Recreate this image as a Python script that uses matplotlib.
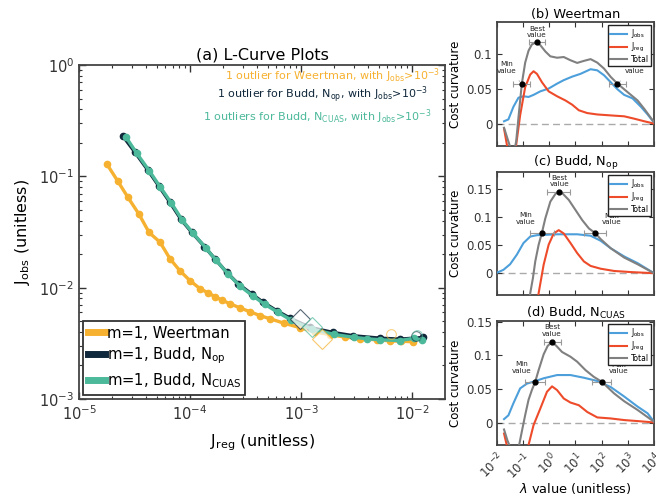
import numpy as np
import matplotlib
matplotlib.use("Agg")
import matplotlib.pyplot as plt
from matplotlib.lines import Line2D

# ---------------- data: L-curves (panel a) ----------------
weert_jreg = [1.79e-5, 2.24e-5, 2.76e-5, 3.48e-5, 4.28e-5, 5.37e-5, 6.6e-5, 8.1e-5, 1.0e-4,
              1.23e-4, 1.45e-4, 1.68e-4, 1.95e-4, 2.29e-4, 2.8e-4, 3.47e-4, 4.3e-4, 5.26e-4,
              7.0e-4, 9.8e-4, 1.35e-3, 1.82e-3, 2.5e-3, 3.4e-3, 4.8e-3, 6.3e-3, 8.0e-3, 1.02e-2]
weert_jobs = [0.128, 0.0902, 0.0647, 0.0455, 0.0313, 0.0256, 0.0182, 0.0142, 0.01156,
              0.0098, 0.0090, 0.0083, 0.0077, 0.00718, 0.0066, 0.00608, 0.0056, 0.00526,
              0.0048, 0.00437, 0.0040, 0.00378, 0.0036, 0.00348, 0.0034, 0.00333, 0.0033, 0.00327]

nop_jreg = [2.49e-5, 3.2e-5, 4.19e-5, 5.26e-5, 6.6e-5, 8.3e-5, 1.035e-4, 1.35e-4, 1.68e-4,
            2.14e-4, 2.72e-4, 3.6e-4, 4.57e-4, 6.04e-4, 7.96e-4, 1.2e-3, 1.95e-3, 2.96e-3,
            5.15e-3, 7.8e-3, 1.26e-2]
nop_jobs = [0.229, 0.164, 0.113, 0.0813, 0.0583, 0.041, 0.0315, 0.0234, 0.0181,
            0.01374, 0.0108, 0.00877, 0.00738, 0.00621, 0.00533, 0.0044, 0.00396, 0.0037,
            0.00352, 0.00345, 0.00357]

cuas_jreg = [2.65e-5, 3.3e-5, 4.3e-5, 5.4e-5, 6.8e-5, 8.5e-5, 1.06e-4, 1.38e-4, 1.72e-4,
             2.2e-4, 2.8e-4, 3.7e-4, 4.7e-4, 6.2e-4, 8.2e-4, 1.25e-3, 2.0e-3, 3.0e-3,
             3.9e-3, 5.2e-3, 7.8e-3, 1.05e-2, 1.22e-2]
cuas_jobs = [0.225, 0.162, 0.112, 0.080, 0.0575, 0.0405, 0.031, 0.0229, 0.0176,
             0.0133, 0.0104, 0.0084, 0.0071, 0.0060, 0.0051, 0.00425, 0.0038, 0.00358,
             0.00348, 0.0034, 0.00335, 0.00352, 0.00338]

# best-value (diamond) and outlier (circle) points
best_jreg = [1.54e-3, 9.8e-4, 1.25e-3]
best_jobs = [0.00345, 0.00522, 0.00439]
out_jreg = [6.43e-3, 1.09e-2, 1.12e-2]
out_jobs = [0.00383, 0.0037, 0.00372]

series_labels = ["m=1, Weertman", "m=1, Budd, N$_{\\mathrm{op}}$", "m=1, Budd, N$_{\\mathrm{CUAS}}$"]
series_colors = ["#F6B130", "#10283B", "#4DB99B"]

# ---------------- data: curvature panels (b)-(d) ----------------
# x given as log10(lambda)
b_obs_x = [-1.731, -1.564, -1.372, -1.179, -0.987, -0.795, -0.603, -0.346, -0.026, 0.295, 0.551,
           0.872, 1.192, 1.577, 1.833, 2.090, 2.346, 2.603, 2.859, 3.179, 3.5, 3.756, 4.0]
b_obs_y = [0.0043, 0.007, 0.025, 0.038, 0.040, 0.039, 0.042, 0.047, 0.051, 0.058, 0.063,
           0.068, 0.072, 0.0786, 0.077, 0.070, 0.060, 0.050, 0.042, 0.037, 0.025, 0.014, 0.0024]
b_reg_x = [-1.731, -1.628, -1.564, -1.45, -1.269, -1.115, -0.923, -0.731, -0.603, -0.474, -0.282,
           -0.026, 0.295, 0.615, 0.872, 1.128, 1.449, 1.833, 2.218, 2.603, 2.859, 3.244, 3.628, 4.0]
b_reg_y = [-0.006, -0.028, -0.044, -0.06, -0.030, 0.013, 0.053, 0.071, 0.0757, 0.072, 0.060,
           0.047, 0.040, 0.034, 0.028, 0.020, 0.016, 0.014, 0.013, 0.012, 0.0114, 0.008, 0.0043, 0.001]
b_tot_x = [-1.731, -1.603, -1.5, -1.423, -1.346, -1.269, -1.179, -1.051, -0.923, -0.795, -0.667,
           -0.50, -0.346, -0.154, 0.038, 0.295, 0.551, 0.808, 1.064, 1.321, 1.577, 1.833, 2.090,
           2.346, 2.603, 2.859, 3.115, 3.372, 3.628, 4.0]
b_tot_y = [-0.005, -0.020, -0.032, -0.040, -0.038, -0.025, 0.010, 0.058, 0.088, 0.105, 0.114,
           0.117, 0.113, 0.104, 0.097, 0.095, 0.096, 0.0914, 0.0876, 0.0905, 0.093, 0.088, 0.0795,
           0.0676, 0.058, 0.050, 0.042, 0.034, 0.022, 0.003]

c_obs_x = [-2.0, -1.756, -1.5, -1.244, -0.987, -0.731, -0.474, 0.295, 1.064, 1.577, 1.962,
           2.346, 2.859, 3.372, 4.0]
c_obs_y = [0.001, 0.006, 0.016, 0.033, 0.054, 0.0655, 0.068, 0.0696, 0.0696, 0.067, 0.058,
           0.0446, 0.030, 0.018, 0.0]
c_reg_x = [-0.5, -0.410, -0.218, -0.026, 0.167, 0.359, 0.551, 0.808, 1.064, 1.321, 1.577,
           1.962, 2.474, 3.115, 4.0]
c_reg_y = [-0.08, -0.036, 0.015, 0.051, 0.071, 0.077, 0.071, 0.054, 0.036, 0.021, 0.013,
           0.008, 0.004, 0.002, 0.0]
c_tot_x = [-0.85, -0.731, -0.628, -0.538, -0.410, -0.282, -0.154, 0.038, 0.231, 0.359, 0.487,
           0.744, 1.0, 1.256, 1.513, 1.731, 1.962, 2.346, 2.859, 3.372, 4.0]
c_tot_y = [-0.09, -0.036, -0.009, 0.021, 0.0506, 0.0726, 0.098, 0.128, 0.1417, 0.146, 0.1435,
           0.131, 0.113, 0.095, 0.080, 0.0726, 0.061, 0.0446, 0.028, 0.016, 0.0]

d_obs_x = [-1.731, -1.564, -1.372, -1.115, -0.859, -0.603, -0.218, 0.295, 0.808, 1.321, 1.833,
           2.346, 2.859, 3.372, 3.756, 4.0]
d_obs_y = [0.0054, 0.011, 0.029, 0.051, 0.058, 0.061, 0.066, 0.0708, 0.0708, 0.0668, 0.062,
           0.053, 0.039, 0.024, 0.014, 0.0015]
d_reg_x = [-1.731, -1.628, -1.4, -1.0, -0.795, -0.603, -0.346, -0.090, 0.103, 0.295, 0.551,
           0.808, 1.128, 1.449, 1.833, 2.346, 2.859, 3.372, 4.0]
d_reg_y = [-0.016, -0.033, -0.05, -0.05, -0.033, -0.0035, 0.021, 0.046, 0.054, 0.0485, 0.036,
           0.030, 0.026, 0.016, 0.0079, 0.0064, 0.004, 0.0025, 0.0005]
d_tot_x = [-1.731, -1.603, -1.5, -1.346, -1.179, -1.051, -0.923, -0.795, -0.667, -0.538, -0.410,
           -0.218, -0.064, 0.103, 0.269, 0.487, 0.808, 1.064, 1.385, 1.705, 2.0, 2.474, 2.859,
           3.372, 4.0]
d_tot_y = [-0.010, -0.026, -0.036, -0.046, -0.038, -0.013, 0.0114, 0.034, 0.0485, 0.061, 0.078,
           0.1015, 0.114, 0.120, 0.114, 0.105, 0.098, 0.0906, 0.078, 0.068, 0.061, 0.0436, 0.032,
           0.019, 0.0015]

# selected lambda (log10): [min, best, max], values, and error ranges (lo, hi)
b_sel_x = [-1.051, -0.474, 2.603]; b_sel_y = [0.058, 0.117, 0.058]
b_sel_lo = [-1.372, -0.794, 2.282]; b_sel_hi = [-0.731, -0.154, 2.923]
c_sel_x = [-0.282, 0.359, 1.731]; c_sel_y = [0.0726, 0.146, 0.0726]
c_sel_lo = [-0.731, -0.090, 1.321]; c_sel_hi = [0.167, 0.808, 2.154]
d_sel_x = [-0.538, 0.103, 2.0]; d_sel_y = [0.061, 0.120, 0.061]
d_sel_lo = [-0.923, -0.218, 1.641]; d_sel_hi = [-0.154, 0.462, 2.346]

# label positions (log10 x, y) for Min / Best / Max text
b_txt = [(-1.628, 0.081), (-0.474, 0.132), (3.27, 0.080)]
c_txt = [(-0.923, 0.098), (0.38, 0.165), (2.372, 0.097)]
d_txt = [(-1.05, 0.082), (0.103, 0.137), (2.667, 0.081)]

panel_titles = ["(b) Weertman", "(c) Budd, N$_{\\mathrm{op}}$", "(d) Budd, N$_{\\mathrm{CUAS}}$"]
panel_ylims = [(-0.031, 0.146), (-0.039, 0.181), (-0.033, 0.151)]
panel_yticks = [[0, 0.05, 0.1], [0, 0.05, 0.1, 0.15], [0, 0.05, 0.1, 0.15]]
panel_yticklabels = [["0", "0.05", "0.1"], ["0", "0.05", "0.1", "0.15"], ["0", "0.05", "0.1", "0.15"]]
curve_colors = {"obs": "#4C9FDA", "reg": "#EE4B2B", "tot": "#808080"}

# ---------------- figure ----------------
W, H = 656, 498
fig = plt.figure(figsize=(W / 100, H / 100), dpi=100)
plt.rcParams['font.family'] = ['DejaVu Sans']


def px_axes(l, t, r, b):
    return fig.add_axes([l / W, 1 - b / H, (r - l) / W, (b - t) / H])


spine_col = "#444444"

# ---- panel (a)
ax = px_axes(79, 65, 445, 399)
ax.set_xscale('log'); ax.set_yscale('log')
ax.set_xlim(1e-5, 10 ** (-5 + 366 / 111))
ax.set_ylim(1e-3, 1)
xs = [weert_jreg, nop_jreg, cuas_jreg]
ys = [weert_jobs, nop_jobs, cuas_jobs]
for i in range(3):
    ax.plot(xs[i], ys[i], '-o', color=series_colors[i], lw=2.4, ms=4.5, zorder=3 + i)
for i in range(3):
    ax.plot(best_jreg[i], best_jobs[i], 'D', ms=10, mfc='white',
            mec=series_colors[i], mew=0.8, alpha=0.7, zorder=8)
    ax.plot(out_jreg[i], out_jobs[i], 'o', ms=7, mfc='none',
            mec=series_colors[i], mew=0.8, alpha=0.6, zorder=8)
ax.tick_params(which='both', direction='in', top=True, right=True, labelsize=10.5,
               colors='#333333')
ax.tick_params(which='major', length=5, width=1)
ax.tick_params(which='minor', length=2.5, width=0.8)
for s in ax.spines.values():
    s.set_color(spine_col); s.set_linewidth(1.3)
ax.set_title("(a) L-Curve Plots", fontsize=11.5, pad=4)
ax.set_xlabel("J$_{\\mathrm{reg}}$ (unitless)", fontsize=11.5)
ax.set_ylabel("J$_{\\mathrm{obs}}$ (unitless)", fontsize=11.5)
ax.xaxis.set_label_coords(0.5, -0.1)
ax.yaxis.set_label_coords(-0.128, 0.5)
handles = [Line2D([], [], color=c, lw=5) for c in series_colors]
leg = ax.legend(handles, series_labels, loc='lower left', fontsize=10.6, fancybox=False,
                edgecolor='#333333', framealpha=1, handlelength=1.15, handletextpad=0.15,
                borderpad=0.3, labelspacing=0.35, borderaxespad=0.3)
leg.get_frame().set_linewidth(1.3)
ax.text(0.986, 0.967, "1 outlier for Weertman, with J$_{\\mathrm{obs}}$>10$^{-3}$",
        color=series_colors[0], transform=ax.transAxes, ha='right', va='center', fontsize=8)
ax.text(0.955, 0.913, "1 outlier for Budd, N$_{\\mathrm{op}}$, with J$_{\\mathrm{obs}}$>10$^{-3}$",
        color=series_colors[1], transform=ax.transAxes, ha='right', va='center', fontsize=8)
ax.text(0.963, 0.845, "1 outliers for Budd, N$_{\\mathrm{CUAS}}$, with J$_{\\mathrm{obs}}$>10$^{-3}$",
        color=series_colors[2], transform=ax.transAxes, ha='right', va='center', fontsize=8)

# ---- panels (b)-(d)
panel_px = [(497, 22, 654, 146), (497, 172, 654, 295), (497, 321, 654, 445)]
panel_data = [
    (b_obs_x, b_obs_y, b_reg_x, b_reg_y, b_tot_x, b_tot_y, b_sel_x, b_sel_y, b_sel_lo, b_sel_hi, b_txt),
    (c_obs_x, c_obs_y, c_reg_x, c_reg_y, c_tot_x, c_tot_y, c_sel_x, c_sel_y, c_sel_lo, c_sel_hi, c_txt),
    (d_obs_x, d_obs_y, d_reg_x, d_reg_y, d_tot_x, d_tot_y, d_sel_x, d_sel_y, d_sel_lo, d_sel_hi, d_txt),
]
txt_labels = ["Min\nvalue", "Best\nvalue", "Max\nvalue"]
for k in range(3):
    a = px_axes(*panel_px[k])
    (ox, oy, rx, ry, tx, ty, sx, sy, slo, shi, tpos) = panel_data[k]
    a.set_xscale('log')
    a.axhline(0, color='#AAAAAA', ls='--', lw=1, dashes=(5, 3), zorder=1)
    a.plot(10 ** np.array(ox), oy, color=curve_colors['obs'], lw=1.5, label="J$_{\\mathrm{obs}}$", zorder=3)
    a.plot(10 ** np.array(rx), ry, color=curve_colors['reg'], lw=1.5, label="J$_{\\mathrm{reg}}$", zorder=3)
    a.plot(10 ** np.array(tx), ty, color=curve_colors['tot'], lw=1.5, label="Total", zorder=4)
    sxv = 10 ** np.array(sx)
    xerr = np.array([sxv - 10 ** np.array(slo), 10 ** np.array(shi) - sxv])
    a.errorbar(sxv, sy, xerr=xerr, fmt='none', ecolor='#999999', elinewidth=0.8,
               capsize=2, capthick=0.8, zorder=5)
    a.plot(sxv, sy, 'o', color='black', ms=3.5, zorder=6)
    for j in range(3):
        txx, tyy = tpos[j]
        if j == 1:
            a.text(10 ** txx, tyy, txt_labels[j], ha='center', va='center', fontsize=5.2,
                   color='#222222', linespacing=1.1)
        else:
            a.annotate(txt_labels[j], xy=(sxv[j], sy[j]), xytext=(10 ** txx, tyy),
                       ha='center', va='center', fontsize=5.2, color='#222222', linespacing=1.1,
                       arrowprops=dict(arrowstyle='-', color='#999999', lw=0.5, shrinkA=4, shrinkB=2))
    a.set_xlim(1e-2, 1e4)
    a.set_ylim(*panel_ylims[k])
    a.set_yticks(panel_yticks[k])
    a.set_yticklabels(panel_yticklabels[k])
    a.set_xticks([1e-2, 1e-1, 1e0, 1e1, 1e2, 1e3, 1e4])
    a.tick_params(which='both', direction='in', top=True, right=True, labelsize=8.5,
                  colors='#333333')
    a.tick_params(which='major', length=3.5, width=0.8)
    a.tick_params(which='minor', length=2, width=0.6)
    for s in a.spines.values():
        s.set_color(spine_col); s.set_linewidth(1.3)
    a.set_title(panel_titles[k], fontsize=9.3, pad=3)
    a.set_ylabel("Cost curvature", fontsize=8.5)
    a.yaxis.set_label_coords(-0.225, 0.5)
    lg = a.legend(loc='upper right', fontsize=5.5, fancybox=False, edgecolor='#222222',
                  framealpha=1, handlelength=2.2, handletextpad=0.5, borderpad=0.25,
                  labelspacing=0.1, borderaxespad=0.45)
    lg.set_zorder(7)
    lg.get_frame().set_linewidth(1.0)
    if k < 2:
        a.tick_params(labelbottom=False)
    else:
        a.set_xticklabels(["10$^{-2}$", "10$^{-1}$", "10$^{0}$", "10$^{1}$", "10$^{2}$",
                           "10$^{3}$", "10$^{4}$"], rotation=45, ha='right',
                          rotation_mode='anchor')
        a.set_xlabel("$\\lambda$ value (unitless)", fontsize=9.3)
        a.xaxis.set_label_coords(0.5, -0.29)

fig.savefig("out.png", dpi=100)
